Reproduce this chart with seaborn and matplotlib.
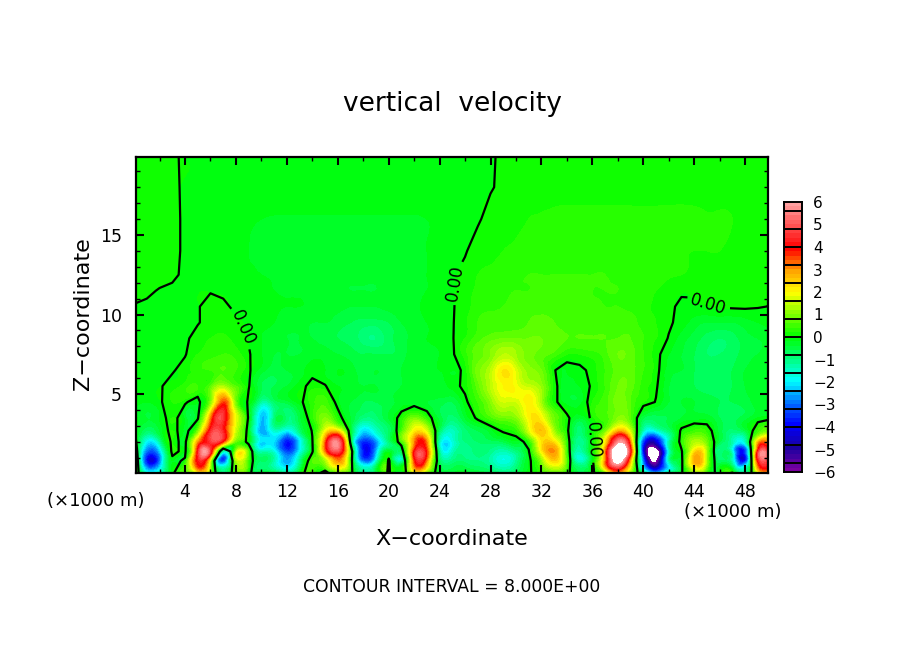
import numpy as np
import seaborn as sns
import matplotlib
matplotlib.use("Agg")
import matplotlib.pyplot as plt
import matplotlib.tri as mtri
from matplotlib.colors import ListedColormap, BoundaryNorm

# x every 1 km (0..50), one list per height
x_km = list(range(0, 51))
z_km = [0.04, 0.8, 1.4, 2.0, 2.7, 3.5, 4.5, 5.5, 6.5, 7.5, 8.5, 9.5, 10.5, 11.5, 12.5, 14, 16, 18, 20]

w_00 = [1.0, -1.8, -1.5, -0.1, 0.6, 1.8, 0.8, -1.2, 0.6, 0.1,
        -0.4, -0.6, -1.2, -0.3, 0.5, -0.3, 0.8, 0.2, -1.2, -0.8,
        0.1, -0.9, 1.6, 0.7, -0.4, -0.4, -0.3, -0.5, -0.7, -1.0,
        -0.7, -0.1, 0.4, 0.7, 0.2, -0.7, -0.1, 0.6, 3.0, 1.0,
        -0.8, -2.5, -0.9, -0.1, 1.4, 0.5, -0.3, 0.05, -1.5, 1.5, 1.6]
w_01 = [1.6, -3.8, -3.0, -0.2, 0.1, 4.0, 1.5, -3.4, 1.2, 0.4,
        -0.8, -1.4, -2.6, -1.2, 0.6, 1.2, 3.0, 0.4, -3.0, -1.8,
        0.1, -1.4, 3.4, 3.0, -0.8, -1.0, -0.9, -1.0, -1.3, -1.8,
        -1.2, -0.2, 1.0, 2.4, 0.6, -1.6, -0.2, 3.0, 6.5, 2.5,
        -3.0, -6.2, -1.5, -0.2, 2.8, 1.2, -0.8, -1.5, -3.8, 3.8, 3.5]
w_02 = [1.0, -3.0, -2.4, 0.2, -0.2, 4.0, 4.4, -1.5, 1.2, 0.6,
        -1.5, -1.8, -3.4, -2.0, -0.1, 3.0, 4.8, 0.6, -3.8, -2.6,
        -0.3, -0.6, 3.8, 3.6, -1.2, -1.5, -1.1, -0.9, -1.1, -1.4,
        -1.0, -0.05, 2.0, 3.0, 0.4, -1.4, -0.05, 3.0, 7.5, 4.0,
        -4.0, -7.0, -1.8, -0.1, 2.2, 1.2, -1.0, -1.8, -3.5, 4.0, 3.2]
w_03 = [0.4, -2.0, -1.3, 0.2, -0.2, 2.8, 4.5, 3.5, 0.7, -0.2,
        -2.2, -2.2, -3.8, -2.2, -0.05, 3.2, 5.4, -0.2, -3.6, -2.8,
        -1.0, 0.4, 3.0, 3.0, -1.5, -1.8, -1.0, -0.8, -0.7, -0.6,
        -0.3, 0.2, 2.2, 2.2, 0.3, -1.2, -0.1, 2.0, 5.5, 3.0,
        -3.4, -4.5, -1.4, 0.3, 1.3, 0.8, -0.6, -1.4, -1.6, 2.5, 2.5]
w_04 = [0.05, -0.8, -0.4, 0.2, -0.3, 0.8, 4.2, 4.2, 1.5, -0.3,
        -2.6, -1.6, -2.0, -0.9, 0.05, 1.8, 2.2, -0.4, -2.2, -1.6,
        -0.8, 0.5, 2.0, 1.6, -0.8, -1.5, -0.9, -0.6, -0.3, 0.1,
        0.3, 1.6, 2.6, 1.2, 0.1, -0.9, -0.05, 0.8, 2.6, 1.5,
        -1.5, -1.8, -0.9, 0.1, 0.4, 0.3, -0.5, -0.9, -0.6, 0.4, 0.8]
w_05 = [-0.1, -0.4, -0.2, 0.2, -0.3, -0.1, 3.0, 4.5, 1.8, -0.1,
        -2.4, -1.0, -0.9, -0.5, 0.3, 1.0, 0.2, -0.4, -1.0, -0.9,
        -0.4, 0.2, 0.9, 0.3, -0.5, -0.9, -0.4, 0.1, 0.5, 0.8,
        1.0, 2.0, 2.0, 0.8, 0.1, -0.4, 0.1, 0.5, 1.0, 0.6,
        -0.6, -0.7, -0.6, -0.4, -0.3, -0.3, -0.6, -0.7, -0.5, -0.2, -0.1]
w_06 = [-0.1, -0.2, -0.05, 0.2, 0.05, -0.2, 0.9, 3.5, 0.8, -0.1,
        -1.3, -0.8, -0.5, -0.1, 0.3, 0.5, -0.15, -0.4, -0.6, -0.6,
        -0.5, -0.3, -0.3, -0.4, -0.5, -0.6, -0.1, 0.4, 1.0, 1.6,
        1.6, 2.1, 1.2, 0.1, -0.3, -0.3, 0.2, 0.5, 0.9, 0.6,
        0.2, -0.02, -0.4, -0.4, -0.4, -0.5, -0.6, -0.6, -0.5, -0.3, -0.2]
w_07 = [-0.1, -0.1, -0.03, 0.1, 0.3, 0.4, 0.6, 1.3, 0.6, 0.03,
        -0.6, -0.6, -0.4, -0.1, 0.1, 0.02, -0.2, -0.3, -0.4, -0.4,
        -0.5, -0.4, -0.3, -0.3, -0.3, -0.15, 0.1, 0.7, 1.4, 2.0,
        1.9, 1.5, 1.1, 0.1, -0.3, -0.2, 0.05, 0.4, 0.8, 0.7,
        0.3, 0.05, -0.4, -0.5, -0.6, -0.7, -0.7, -0.6, -0.4, -0.3, -0.2]
w_08 = [-0.1, -0.1, -0.1, -0.03, 0.1, 0.3, 0.4, 0.6, 0.4, 0.05,
        -0.3, -0.5, -0.4, -0.3, -0.1, -0.2, -0.2, -0.3, -0.5, -0.4,
        -0.5, -0.4, -0.3, -0.3, -0.2, -0.2, 0.1, 0.9, 1.4, 2.2,
        1.7, 1.1, 0.8, 0.02, -0.2, -0.1, 0.1, 0.4, 0.7, 0.7,
        0.4, 0.1, -0.3, -0.4, -0.6, -0.7, -0.7, -0.6, -0.4, -0.3, -0.2]
w_09 = [-0.1, -0.1, -0.1, -0.1, -0.02, 0.2, 0.3, 0.4, 0.3, 0.03,
        -0.2, -0.4, -0.4, -0.4, -0.3, -0.3, -0.4, -0.5, -0.6, -0.6,
        -0.6, -0.5, -0.3, -0.3, -0.2, -0.05, 0.3, 0.7, 1.0, 1.4,
        1.2, 0.9, 0.7, 0.5, 0.2, 0.2, 0.3, 0.5, 0.8, 0.7,
        0.4, 0.1, -0.2, -0.4, -0.6, -0.8, -0.8, -0.7, -0.5, -0.4, -0.3]
w_10 = [-0.1, -0.1, -0.1, -0.1, -0.05, 0.1, 0.2, 0.25, 0.1, -0.02,
        -0.2, -0.3, -0.4, -0.4, -0.4, -0.5, -0.6, -0.7, -0.9, -1.0,
        -0.7, -0.5, -0.3, -0.2, -0.15, -0.02, 0.2, 0.5, 0.7, 0.8,
        0.8, 0.8, 0.8, 0.7, 0.6, 0.6, 0.6, 0.6, 0.6, 0.6,
        0.4, 0.2, -0.02, -0.3, -0.5, -0.7, -0.8, -0.7, -0.5, -0.4, -0.3]
w_11 = [-0.08, -0.08, -0.08, -0.08, -0.05, -0.02, 0.1, 0.1, 0.03, -0.05,
        -0.15, -0.2, -0.3, -0.3, -0.4, -0.4, -0.5, -0.6, -0.7, -0.7,
        -0.6, -0.4, -0.3, -0.2, -0.1, -0.02, 0.15, 0.4, 0.5, 0.5,
        0.5, 0.6, 0.7, 0.6, 0.5, 0.5, 0.5, 0.5, 0.5, 0.5,
        0.3, 0.2, 0.05, -0.1, -0.3, -0.4, -0.4, -0.4, -0.3, -0.2, -0.15]
w_12 = [-0.02, -0.05, -0.05, -0.05, -0.03, -0.01, 0.05, 0.03, -0.03, -0.08,
        -0.1, -0.15, -0.2, -0.2, -0.25, -0.3, -0.35, -0.4, -0.4, -0.4,
        -0.35, -0.3, -0.25, -0.15, -0.08, -0.02, 0.1, 0.3, 0.35, 0.4,
        0.45, 0.5, 0.5, 0.5, 0.45, 0.45, 0.45, 0.4, 0.4, 0.35,
        0.25, 0.15, 0.03, -0.03, -0.05, -0.01, 0.03, 0.05, 0.05, 0.02, -0.01]
w_13 = [0.1, 0.05, -0.02, -0.05, -0.05, -0.01, -0.01, -0.03, -0.05, -0.1,
        -0.15, -0.2, -0.25, -0.25, -0.3, -0.3, -0.35, -0.4, -0.4, -0.4,
        -0.35, -0.3, -0.25, -0.2, -0.1, -0.02, 0.08, 0.25, 0.3, 0.35,
        0.4, 0.4, 0.45, 0.45, 0.45, 0.45, 0.4, 0.4, 0.4, 0.35,
        0.3, 0.2, 0.12, 0.02, 0.04, 0.05, 0.06, 0.08, 0.08, 0.08, 0.08]
w_14 = [0.1, 0.1, 0.1, 0.05, -0.05, -0.05, -0.05, -0.08, -0.1, -0.15,
        -0.2, -0.22, -0.25, -0.3, -0.3, -0.3, -0.35, -0.35, -0.35, -0.35,
        -0.3, -0.3, -0.25, -0.2, -0.1, -0.02, 0.06, 0.2, 0.25, 0.3,
        0.35, 0.4, 0.4, 0.4, 0.4, 0.4, 0.4, 0.4, 0.35, 0.32,
        0.28, 0.25, 0.22, 0.2, 0.15, 0.1, 0.1, 0.1, 0.1, 0.1, 0.1]
w_15 = [0.05, 0.05, 0.05, 0.05, -0.03, -0.05, -0.05, -0.08, -0.1, -0.2,
        -0.22, -0.25, -0.25, -0.25, -0.25, -0.25, -0.25, -0.25, -0.25, -0.25,
        -0.25, -0.25, -0.22, -0.2, -0.1, -0.05, -0.02, 0.1, 0.15, 0.2,
        0.25, 0.3, 0.3, 0.3, 0.3, 0.3, 0.3, 0.3, 0.3, 0.3,
        0.3, 0.28, 0.25, 0.22, 0.2, 0.2, 0.2, 0.15, 0.1, 0.05, 0.05]
w_16 = [0.05, 0.05, 0.05, 0.05, -0.03, -0.05, -0.05, -0.05, -0.08, -0.15,
        -0.2, -0.22, -0.22, -0.22, -0.22, -0.22, -0.22, -0.22, -0.22, -0.22,
        -0.22, -0.22, -0.22, -0.2, -0.15, -0.1, -0.08, -0.03, 0.08, 0.1,
        0.15, 0.2, 0.22, 0.24, 0.25, 0.25, 0.25, 0.25, 0.25, 0.25,
        0.25, 0.25, 0.25, 0.25, 0.25, 0.22, 0.22, 0.2, 0.12, 0.08, 0.05]
w_17 = [0.04, 0.04, 0.04, 0.04, -0.03, -0.04, -0.05, -0.06, -0.08, -0.08,
        -0.08, -0.08, -0.08, -0.08, -0.08, -0.08, -0.08, -0.08, -0.08, -0.08,
        -0.08, -0.08, -0.08, -0.08, -0.08, -0.08, -0.06, -0.05, -0.02, 0.05,
        0.1, 0.1, 0.1, 0.12, 0.12, 0.12, 0.12, 0.12, 0.12, 0.12,
        0.12, 0.12, 0.12, 0.12, 0.1, 0.1, 0.1, 0.08, 0.06, 0.05, 0.05]
w_18 = [0.03, 0.03, 0.03, 0.03, -0.03, -0.03, -0.03, -0.03, -0.03, -0.03,
        -0.03, -0.03, -0.03, -0.03, -0.03, -0.03, -0.03, -0.03, -0.03, -0.03,
        -0.03, -0.03, -0.03, -0.03, -0.03, -0.03, -0.03, -0.03, -0.02, 0.03,
        0.03, 0.03, 0.03, 0.03, 0.03, 0.03, 0.03, 0.03, 0.03, 0.03,
        0.03, 0.03, 0.03, 0.03, 0.03, 0.03, 0.03, 0.03, 0.03, 0.03, 0.03]

# colours at each whole unit of the scale, -6 .. 6
anchor_colors = ["#7a00a0", "#1a00a0", "#0000ff", "#0070ff", "#00ffff", "#00ff80", "#00ff00",
                 "#80ff00", "#ffff00", "#ffa000", "#ff0000", "#ff5050", "#ffa0a0"]
cbar_ticks = [6, 5, 4, 3, 2, 1, 0, -1, -2, -3, -4, -5, -6]

W, H = 904, 654


def axes_box(left, top, right, bottom):
    return [left / W, 1 - bottom / H, (right - left) / W, (bottom - top) / H]


sns.set_style("white")
plt.rcParams["font.family"] = ["DejaVu Sans"]
plt.rcParams["text.color"] = "black"
plt.rcParams["xtick.color"] = "black"
plt.rcParams["ytick.color"] = "black"

field = np.array([w_00, w_01, w_02, w_03, w_04, w_05, w_06, w_07, w_08, w_09,
                  w_10, w_11, w_12, w_13, w_14, w_15, w_16, w_17, w_18])
levels = np.arange(-6, 6.01, 0.2)
palette = sns.blend_palette(anchor_colors, n_colors=len(levels) - 1)
cmap = ListedColormap(palette)
cmap.set_over("white")
cmap.set_under("white")
norm = BoundaryNorm(levels, cmap.N)

# matplotlib's own cubic refinement so the colour bands come out round
xx, zz = np.meshgrid(x_km, z_km)
tri = mtri.Triangulation(xx.ravel(), zz.ravel())
tri_fine, field_fine = mtri.UniformTriRefiner(tri).refine_field(field.ravel(), subdiv=3)

fig = plt.figure(figsize=(W / 100, H / 100), dpi=100, facecolor="white")
ax = fig.add_axes(axes_box(136, 157, 768, 473))
ax.set_axisbelow(False)
ax.tricontourf(tri_fine, field_fine, levels=levels, cmap=cmap, norm=norm, extend="both")
zero = ax.contour(x_km, z_km, field, levels=[0], colors="black", linewidths=1.6)
ax.clabel(zero, fmt="%.2f", fontsize=12, inline=True, inline_spacing=4,
          manual=[(8.0, 9.0), (25.4, 12.0), (45.2, 10.7), (36.0, 2.1)])

ax.set_xlim(0.15, 49.8)
ax.set_ylim(0.04, 19.9)
ax.set_xticks(range(4, 49, 4))
ax.set_xticks(range(2, 50, 2), minor=True)
ax.set_yticks([5, 10, 15])
ax.set_yticks(range(1, 20), minor=True)
ax.tick_params(which="major", direction="in", length=6, width=1.5, top=True, right=True,
               bottom=True, left=True, labelsize=12.5)
ax.tick_params(axis="x", which="major", pad=7)
ax.tick_params(axis="y", which="major", pad=10)
ax.tick_params(which="minor", direction="in", length=3, width=1, top=True, right=True,
               bottom=True, left=True)
for spine in ax.spines.values():
    spine.set_linewidth(1.6)
    spine.set_color("black")

# colour bar with a black line every contour interval
cax = fig.add_axes(axes_box(784, 202, 802, 472))
fine = np.array([levels, levels]).T
cax.contourf([0, 1], levels, fine, levels=levels, cmap=cmap, norm=norm)
cax.hlines(np.arange(-5.6, 5.7, 0.8), 0, 1, colors="black", linewidth=1.4)
cax.set_xlim(0, 1)
cax.set_ylim(-6, 6)
cax.set_xticks([])
cax.yaxis.tick_right()
cax.set_yticks(cbar_ticks)
cax.set_yticklabels([str(t).replace("-", "\u2212") for t in cbar_ticks])
cax.tick_params(axis="y", length=0, labelsize=11, pad=8)
for spine in cax.spines.values():
    spine.set_linewidth(1.4)
    spine.set_color("black")

fig.text(452 / W, 1 - 104 / H, "vertical  velocity", fontsize=19, ha="center", va="center")
fig.text(452 / W, 1 - 539 / H, "X\u2212coordinate", fontsize=16, ha="center", va="center")
fig.text(83 / W, 1 - 314 / H, "Z\u2212coordinate", fontsize=16, rotation=90, ha="center", va="center")
fig.text(96 / W, 1 - 501 / H, "(\u00d71000 m)", fontsize=13, ha="center", va="center")
fig.text(733 / W, 1 - 512 / H, "(\u00d71000 m)", fontsize=13, ha="center", va="center")
fig.text(452 / W, 1 - 587 / H, "CONTOUR INTERVAL = 8.000E+00", fontsize=12.4, ha="center", va="center")

fig.savefig("out.png", dpi=100)
